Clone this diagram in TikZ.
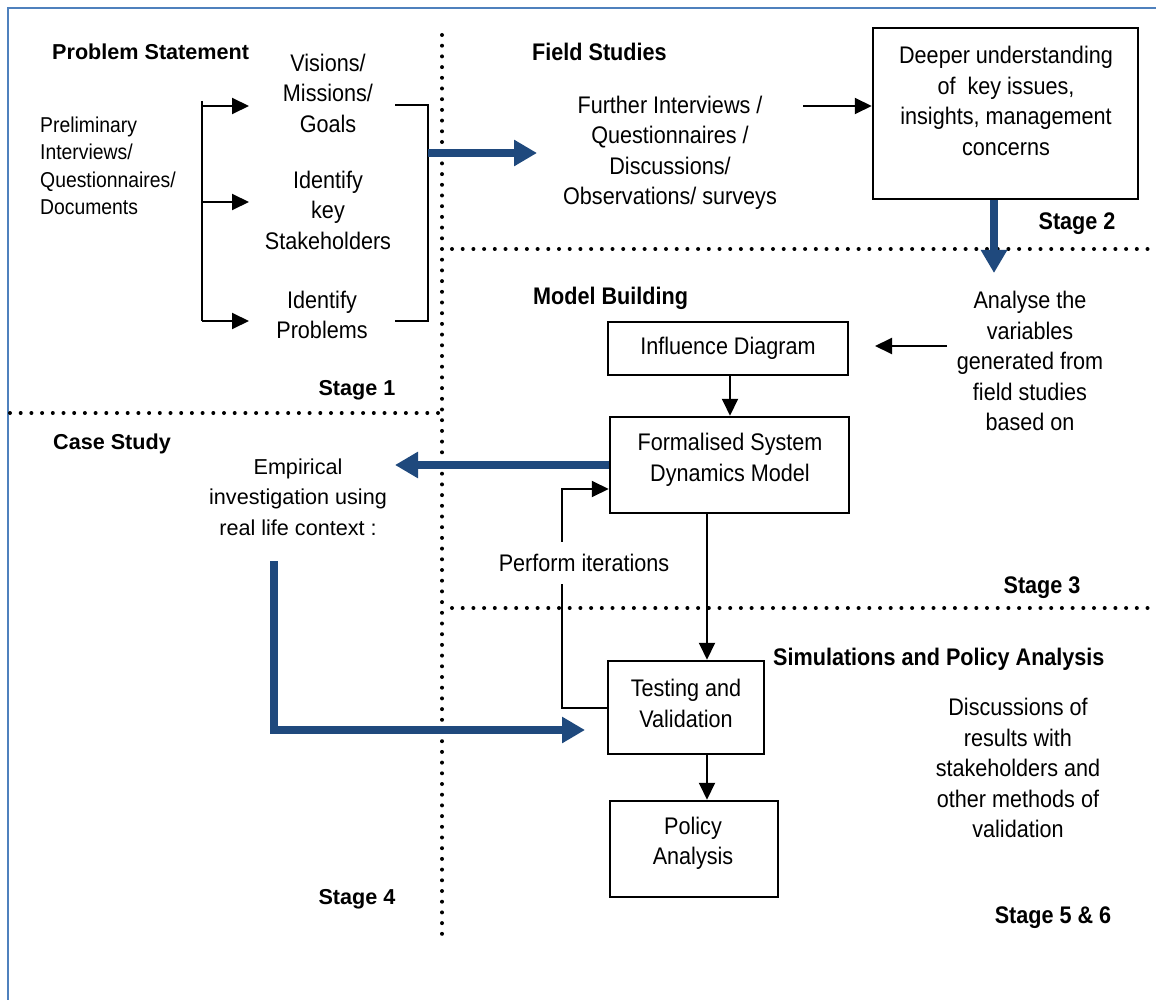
\documentclass[tikz,border=0pt]{standalone}
\usepackage{fontspec}
\setmainfont{Liberation Sans}
\newfontfamily\narrowfont[FakeStretch=0.9]{Liberation Sans}
\usetikzlibrary{arrows.meta}

\definecolor{framecol}{RGB}{79,129,189}
\definecolor{flowblue}{RGB}{31,73,125}

\tikzset{
  frame/.style={draw=framecol, line width=2.6pt},
  dots/.style={line width=4pt, dash pattern=on 0pt off 10.7pt, line cap=round},
  nar/.style={font=\narrowfont\fontsize{24}{30.5}\selectfont, align=center, inner sep=0pt},
  prelim/.style={font=\narrowfont\fontsize{21.5}{27.5}\selectfont, align=left, inner sep=0pt},
  narb/.style={font=\narrowfont\bfseries\fontsize{24}{30}\selectfont, inner sep=0pt},
  regb/.style={font=\bfseries\fontsize{21.6}{27}\selectfont, inner sep=0pt},
  reg/.style={font=\fontsize{21.6}{30.5}\selectfont, align=center, inner sep=0pt},
  stepbox/.style={draw, line width=2.5pt, inner sep=0pt, align=center,
    font=\narrowfont\fontsize{24}{30.5}\selectfont},
  arr/.style={line width=2pt, -{Triangle[length=17pt,width=16pt]}},
  thin/.style={line width=2pt},
  bigarr/.style={draw=flowblue, line width=7.5pt, line join=miter,
    -{Triangle[length=23pt,width=25pt]}}
}

\begin{document}
\begin{tikzpicture}[x=1pt,y=-1pt]
\path[use as bounding box] (0,0) rectangle (1156,1000);

% page frame (left and top edges)
\draw[frame] (8,1000) -- (8,8) -- (1156,8);

% stage separators
\draw[dots] (442,35) -- (442,943);
\draw[dots] (10,413) -- (442,413);
\draw[dots] (452,249) -- (1156,249);
\draw[dots] (452,608) -- (1156,608);

% ---------- Stage 1 : problem statement ----------
\node[regb, anchor=west] (ps) at (52,52) {Problem Statement};
\node[prelim, anchor=west] (pre) at (40,166) {Preliminary\\Interviews/\\Questionnaires/\\Documents};
\node[nar] (vis) at (328,93) {Visions/\\Missions/\\Goals};
\node[nar] (stk) at (328,210) {Identify\\key\\Stakeholders};
\node[nar] (prb) at (322,315) {Identify\\Problems};
\node[regb] (s1) at (357,390) {Stage 1};

\coordinate (bl1) at (202,106);
\coordinate (bl2) at (202,202);
\coordinate (bl3) at (202,321);
\draw[thin] (202,101) -- (bl3);
\draw[arr] (bl1) -- (249,106);
\draw[arr] (bl2) -- (249,202);
\draw[arr] (bl3) -- (249,321);

\coordinate (br1) at (395,105);
\coordinate (br2) at (395,321);
\coordinate (brm) at (428,153);
\draw[thin] (br1) -- (428,105) -- (428,321) -- (br2);

% ---------- Stage 2 : field studies ----------
\node[narb, anchor=west] (fs) at (532,52) {Field Studies};
\node[nar] (fur) at (670,153) {Further Interviews /\\Questionnaires /\\Discussions/\\Observations/ surveys};
\node[stepbox, minimum width=265pt, minimum height=171pt] (deep) at (1005.5,113.5) {};
\node[nar] (deeptxt) at (1006,101) {Deeper understanding\\of\ \ key issues,\\insights, management\\concerns};
\node[narb] (s2) at (1077,224) {Stage 2};

\coordinate (fsin) at (537,153);
\draw[bigarr] (brm) -- (fsin);
\coordinate (furout) at (803,106);
\draw[arr] (furout) -- (deep.west |- furout);

% ---------- Stage 3 : model building ----------
\node[narb, anchor=west] (mb) at (533,298) {Model Building};
\node[nar] (ana) at (1030,361) {Analyse the\\variables\\generated from\\field studies\\based on};
\node[stepbox, minimum width=240pt, minimum height=53pt] (inf) at (728,348.5) {Influence Diagram};
\node[stepbox, minimum width=239pt, minimum height=96pt] (form) at (729.5,465) {};
\node[nar] (formtxt) at (730,460) {Formalised System\\Dynamics Model};
\node[narb] (s3) at (1042,588) {Stage 3};

\coordinate (anaend) at (994,273);
\draw[bigarr] (deep.south -| anaend) -- (anaend);
\coordinate (anaout) at (947,346);
\draw[arr] (anaout) -- (875,346);
\coordinate (vx) at (730,0);
\draw[arr] (inf.south -| vx) -- (form.north -| vx);

% ---------- Stage 4 : case study ----------
\node[regb, anchor=west] (cs) at (53,444) {Case Study};
\node[reg] (emp) at (298,497) {Empirical\\investigation using\\real life context :};
\node[regb] (s4) at (357,899) {Stage 4};

\coordinate (empin) at (395,465);
\draw[bigarr] (form.west) -- (empin);

% ---------- Stage 5 & 6 : simulations and policy analysis ----------
\node[narb, anchor=west] (sim) at (773,659) {Simulations and Policy Analysis};
\node[stepbox, minimum width=156pt, minimum height=93pt] (tv) at (686,707.5) {};
\node[nar] (tvtxt) at (686,703.5) {Testing and\\Validation};
\node[stepbox, minimum width=168pt, minimum height=96pt] (pol) at (694,849) {};
\node[nar] (poltxt) at (693,843.5) {Policy\\Analysis};
\node[nar] (dis) at (1018,768) {Discussions of\\results with\\stakeholders and\\other methods of\\validation};
\node[narb] (s56) at (1053,918) {Stage 5 \& 6};

\coordinate (dx) at (707,0);
\draw[arr] (form.south -| dx) -- (tv.north -| dx);
\draw[arr] (tv.south -| dx) -- (pol.north -| dx);

% iteration loop back to the model
\coordinate (loopx) at (562,0);
\draw[arr] (tv.west) -- (tv.west -| loopx) -- ([yshift=-24pt]form.west -| loopx) -- ([yshift=-24pt]form.west);
\node[nar, fill=white, inner xsep=2pt, inner ysep=12pt] (it) at (584,563) {Perform iterations};

% case study feeds testing
\coordinate (lstart) at (274,561);
\coordinate (ltip) at (585,730);
\draw[bigarr] (lstart) |- (ltip);

\end{tikzpicture}
\end{document}
